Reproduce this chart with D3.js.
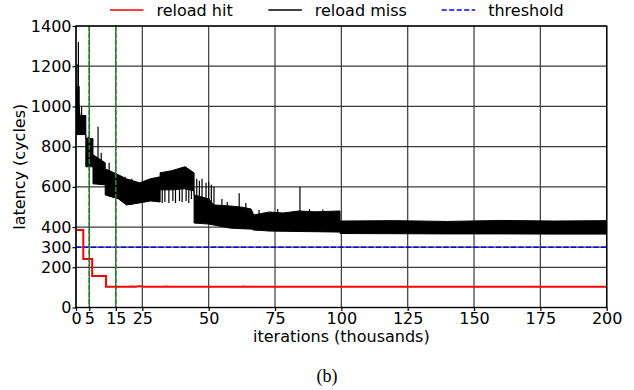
<!DOCTYPE html>
<html>
<head>
<meta charset="utf-8">
<script src="https://cdn.jsdelivr.net/npm/d3@7"></script>
<style>
  html, body { margin: 0; padding: 0; background: #fff; }
  svg { display: block; }
  text { font-family: "DejaVu Sans", sans-serif; fill: #000; }
</style>
</head>
<body>
<script>
// ---- data (x in thousands of iterations, y in cycles) ----
const xTicks = [0, 5, 15, 25, 50, 75, 100, 125, 150, 175, 200];
const yTicks = [0, 200, 300, 400, 600, 800, 1000, 1200, 1400];
const markerX = [5, 15];
const thresholdValue = 300;

// reload hit: stepped latency
const hitX = [0, 2.75, 2.75, 6.1, 6.1, 11.3, 11.3, 20, 21, 22.5, 23.5, 24.5, 25.5, 33, 34, 35, 62, 63, 64, 200];
const hitY = [385, 385, 241, 241, 157, 157, 103, 103, 104, 103, 106, 106, 103, 103, 105, 103, 103, 105, 103, 103];

// reload miss: min/max envelope of the noisy trace
const missX    = [0,   0.3,  1.5, 3.7, 3.7, 6.4, 6.4, 11,  11,  16,  19,  24,  28,  31.7, 31.7, 36,  41,  44.5, 44.5, 50,  52,  58,  62,  66,  67,  70,  73,  78,  84,  90,  95,  99.5, 99.5, 120, 140, 160, 180, 200];
const missLow  = [860, 860,  860, 860, 700, 700, 615, 610, 560, 540, 510, 520, 530, 525,  585,  585, 590, 580,  420,  415, 410, 395, 392, 390, 385, 383, 380, 379, 378, 377, 376, 375,  368,  367, 366, 366, 365, 365];
const missHigh = [1000,1100, 955, 955, 840, 840, 760, 720, 690, 660, 640, 620, 640, 650,  670,  680, 700, 670,  560,  540, 510, 505, 500, 490, 460, 468, 475, 470, 480, 476, 478, 480,  430,  432, 428, 433, 430, 432];

// isolated excursions of the miss trace: [x, from, to]
const missSpikes = [
  [0.4, 900, 1210], [0.9, 900, 1320], [1.2, 900, 1100], [2.1, 900, 1000],
  [4.6, 720, 850], [8.3, 650, 899], [9.5, 640, 770], [12.5, 580, 720],
  [18.5, 520, 650], [21, 510, 640],
  [32.5, 520, 640], [33.5, 525, 650], [35, 520, 660], [36.5, 530, 670],
  [37.5, 520, 680], [39, 530, 690], [40, 525, 690], [41.5, 530, 700], [42.5, 520, 690], [43.5, 540, 660],
  [45.5, 450, 640], [46.5, 450, 630], [47.5, 440, 640], [49, 440, 620], [50, 430, 625], [51, 430, 610], [52, 420, 600],
  [55, 410, 540], [57, 400, 525], [61.5, 400, 568], [64, 400, 520], [69, 390, 485], [76, 385, 490], [84.4, 390, 601],
  [88, 385, 490], [93, 380, 488]
];

const legendItems = [
  { label: "reload hit", color: "#ff0000", dash: null, x: 110 },
  { label: "reload miss", color: "#000000", dash: null, x: 268.3 },
  { label: "threshold", color: "#0000ff", dash: "5,2.5", x: 441.7 }
];

// ---- layout ----
const W = 634, H = 390;
const plot = { left: 76, right: 606.7, top: 26, bottom: 307.5 };

const svg = d3.select("body").append("svg").attr("width", W).attr("height", H);

const x = d3.scaleLinear().domain([0, 200]).range([plot.left, plot.right]);
const y = d3.scaleLinear().domain([0, 1400]).range([plot.bottom, plot.top]);

svg.append("defs").append("clipPath").attr("id", "plotclip")
  .append("rect")
  .attr("x", plot.left).attr("y", plot.top)
  .attr("width", plot.right - plot.left).attr("height", plot.bottom - plot.top);

// grid
const grid = svg.append("g");
grid.selectAll("line.gx").data(xTicks).join("line")
  .attr("x1", d => x(d)).attr("x2", d => x(d))
  .attr("y1", plot.top).attr("y2", plot.bottom)
  .attr("stroke", "#3a3a3a").attr("stroke-width", 1.2);
grid.selectAll("line.gy").data(yTicks).join("line")
  .attr("x1", plot.left).attr("x2", plot.right)
  .attr("y1", d => y(d)).attr("y2", d => y(d))
  .attr("stroke", "#3a3a3a").attr("stroke-width", 1.2);

const data = svg.append("g").attr("clip-path", "url(#plotclip)");

// miss envelope
const missPts = missX.map((v, i) => ({ x: v, lo: missLow[i], hi: missHigh[i] }));
data.append("path")
  .datum(missPts)
  .attr("d", d3.area().x(d => x(d.x)).y0(d => y(d.lo)).y1(d => y(d.hi)))
  .attr("fill", "#000").attr("stroke", "#000").attr("stroke-width", 1);

data.selectAll("line.spike").data(missSpikes).join("line")
  .attr("x1", d => x(d[0])).attr("x2", d => x(d[0]))
  .attr("y1", d => y(d[1])).attr("y2", d => y(d[2]))
  .attr("stroke", "#000").attr("stroke-width", 1.2);

// threshold
data.append("line")
  .attr("x1", plot.left).attr("x2", plot.right)
  .attr("y1", y(thresholdValue)).attr("y2", y(thresholdValue))
  .attr("stroke", "#0000ff").attr("stroke-width", 1.5)
  .attr("stroke-dasharray", "5,2.5");

// reload hit
data.append("path")
  .datum(hitX.map((v, i) => [v, hitY[i]]))
  .attr("d", d3.line().x(d => x(d[0])).y(d => y(d[1])))
  .attr("fill", "none").attr("stroke", "#ff0000").attr("stroke-width", 2);

// phase markers
data.selectAll("line.marker").data(markerX).join("line")
  .attr("x1", d => x(d)).attr("x2", d => x(d))
  .attr("y1", plot.top).attr("y2", plot.bottom)
  .attr("stroke", "#1a8a1a").attr("stroke-width", 1.6)
  .attr("stroke-dasharray", "5,2");

// frame
svg.append("rect")
  .attr("x", plot.left).attr("y", plot.top)
  .attr("width", plot.right - plot.left).attr("height", plot.bottom - plot.top)
  .attr("fill", "none").attr("stroke", "#000").attr("stroke-width", 1.4);

// axes
const xAxis = svg.append("g")
  .attr("transform", `translate(0,${plot.bottom})`)
  .call(d3.axisBottom(x).tickValues(xTicks).tickSize(3.5).tickPadding(2).tickFormat(d3.format("d")));
const yAxis = svg.append("g")
  .attr("transform", `translate(${plot.left},0)`)
  .call(d3.axisLeft(y).tickValues(yTicks).tickSize(3.5).tickPadding(1).tickFormat(d3.format("d")));
[xAxis, yAxis].forEach(g => {
  g.select(".domain").remove();
  g.selectAll(".tick line").attr("stroke", "#000").attr("stroke-width", 1.2);
  g.selectAll(".tick text").attr("font-family", "DejaVu Sans").attr("font-size", 16).attr("fill", "#000");
});

// axis titles
svg.append("text")
  .attr("x", (plot.left + plot.right) / 2).attr("y", 341.5)
  .attr("text-anchor", "middle").attr("font-size", 16)
  .text("iterations (thousands)");
svg.append("text")
  .attr("transform", `translate(25,${(plot.top + plot.bottom) / 2}) rotate(-90)`)
  .attr("text-anchor", "middle").attr("font-size", 16)
  .text("latency (cycles)");

// legend
const leg = svg.append("g");
legendItems.forEach(it => {
  leg.append("line")
    .attr("x1", it.x).attr("x2", it.x + 33.5)
    .attr("y1", 10).attr("y2", 10)
    .attr("stroke", it.color).attr("stroke-width", 1.5)
    .attr("stroke-dasharray", it.dash);
  leg.append("text")
    .attr("x", it.x + 46.5).attr("y", 16)
    .attr("font-size", 16)
    .text(it.label);
});

// caption
svg.append("text")
  .attr("x", 327).attr("y", 382)
  .attr("text-anchor", "middle")
  .attr("font-size", 18)
  .style("font-family", "'Liberation Serif', serif")
  .text("(b)");
</script>
</body>
</html>
